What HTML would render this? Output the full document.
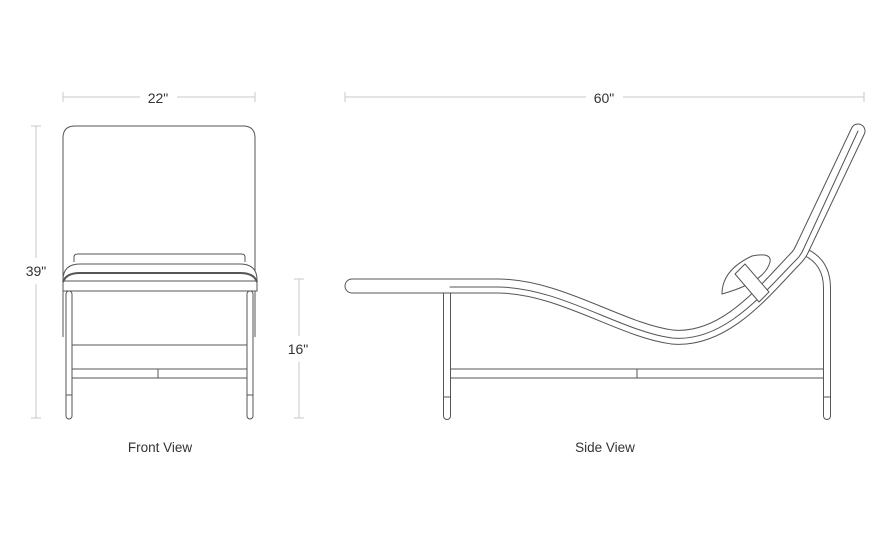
<!DOCTYPE html>
<html><head><meta charset="utf-8"><style>
html,body{margin:0;padding:0;background:#fff;}
svg{display:block;}
text{font-family:"Liberation Sans",sans-serif;fill:#333;}
</style></head><body>
<svg width="890" height="546" viewBox="0 0 890 546" xmlns="http://www.w3.org/2000/svg">
<g stroke="#c8c8c8" stroke-width="1" fill="none">
<line x1="63" y1="97" x2="140" y2="97"/><line x1="177" y1="97" x2="255" y2="97"/>
<line x1="63" y1="92" x2="63" y2="102"/><line x1="255" y1="92" x2="255" y2="102"/>
<line x1="345" y1="97" x2="586" y2="97"/><line x1="623" y1="97" x2="864" y2="97"/>
<line x1="345" y1="92" x2="345" y2="102"/><line x1="864" y1="92" x2="864" y2="102"/>
<line x1="36" y1="126" x2="36" y2="258"/><line x1="36" y1="284" x2="36" y2="418"/>
<line x1="31" y1="126" x2="41" y2="126"/><line x1="31" y1="418" x2="41" y2="418"/>
<line x1="299" y1="279" x2="299" y2="336"/><line x1="299" y1="362" x2="299" y2="418"/>
<line x1="294" y1="279" x2="304" y2="279"/><line x1="294" y1="418" x2="304" y2="418"/>
</g>
<text x="158" y="103" font-size="14" text-anchor="middle">22"</text>
<text x="604" y="103" font-size="14" text-anchor="middle">60"</text>
<text x="36" y="276" font-size="14" text-anchor="middle">39"</text>
<text x="298" y="354" font-size="14" text-anchor="middle">16"</text>
<text x="160" y="452" font-size="13.5" text-anchor="middle">Front View</text>
<text x="605" y="452" font-size="13.5" text-anchor="middle">Side View</text>

<!-- front view -->
<g stroke="#555" stroke-width="1" fill="none">
<path d="M63 337 L63 138 Q63 126 75 126 L243 126 Q255 126 255 138 L255 337"/>
<path d="M74 262 L74 257 Q74 254 78 254 L241 254 Q245 254 245 257 L245 262"/>
<path d="M63 291 L63 280 Q63 264 80 264 L240 264 Q257 264 257 280 L257 291 Z" fill="#fff"/>
<path d="M63 282 Q66 273 80 273 L240 273 Q254 273 257 282" stroke-width="2"/>
<line x1="63" y1="281" x2="257" y2="281"/>
<rect x="66" y="291" width="6" height="128" rx="3" fill="#fff"/>
<rect x="247" y="291" width="6" height="128" rx="3" fill="#fff"/>
<line x1="66" y1="395" x2="72" y2="395"/><line x1="247" y1="395" x2="253" y2="395"/>
<line x1="72" y1="345" x2="247" y2="345"/>
<line x1="72" y1="369" x2="247" y2="369"/><line x1="72" y1="378" x2="247" y2="378"/>
<line x1="158" y1="369" x2="158" y2="378"/>
</g>

<!-- side view -->
<g fill="none" stroke-linecap="round" stroke-linejoin="round">
<path d="M805 252 Q827 262 827 288 L827 416" stroke="#555" stroke-width="8"/>
<path d="M805 252 Q827 262 827 288 L827 416" stroke="#fff" stroke-width="6"/>
<path d="M447 293 L447 416" stroke="#555" stroke-width="8"/>
<path d="M447 293 L447 416" stroke="#fff" stroke-width="6"/>
<path d="M352 286 L497 286 C560 286 620 330 672 337 C725 342 765 290 796 258 Q800 254 803 247 L858 131" stroke="#555" stroke-width="15"/>
<path d="M352 286 L497 286 C560 286 620 330 672 337 C725 342 765 290 796 258 Q800 254 803 247 L858 131" stroke="#fff" stroke-width="13"/>
<path d="M450 287 L497 287 C560 287 620 331 672 338 C725 343 765 291 797 259 Q801 255 804 248 L858 131" stroke="#555" stroke-width="1"/>
</g>
<g stroke="#555" stroke-width="1" fill="none">
<line x1="444" y1="397" x2="450" y2="397"/><line x1="824" y1="397" x2="830" y2="397"/>
<line x1="451" y1="369" x2="823" y2="369"/><line x1="451" y1="378" x2="823" y2="378"/>
<line x1="637" y1="369" x2="637" y2="378"/>
<path d="M722 294 Q722 270 752 256 Q772 252 770 262 Q765 282 722 294 Z" fill="#fff"/>
<path d="M735 274 L745 264 L769 292 L759 302 Z" fill="#fff"/>
</g>
</svg>
</body></html>
